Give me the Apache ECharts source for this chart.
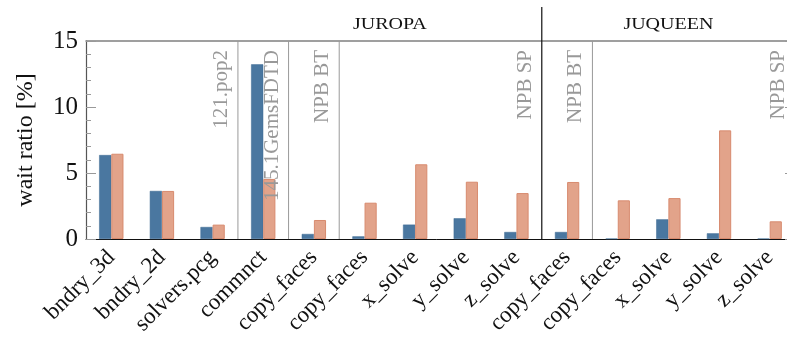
<!DOCTYPE html>
<html>
<head>
<meta charset="utf-8">
<script src="https://cdn.jsdelivr.net/npm/echarts@6/dist/echarts.min.js"></script>
<style>
  html, body { margin: 0; padding: 0; background: #fff; }
  #chart { width: 787px; height: 341px; }
</style>
</head>
<body>
<div id="chart"></div>
<script>
// Code regions (x axis categories)
const regions = ['bndry_3d', 'bndry_2d', 'solvers.pcg', 'commnct', 'copy_faces', 'copy_faces',
  'x_solve', 'y_solve', 'z_solve', 'copy_faces', 'copy_faces', 'x_solve', 'y_solve', 'z_solve'];

// Wait ratio in percent for the two measurements
const waitBlue   = [6.36, 3.64, 0.91, 13.23, 0.38, 0.20, 1.09, 1.57, 0.53, 0.53, 0.03, 1.49, 0.43, 0.03];
const waitSalmon = [6.46, 3.64, 1.09, 4.55, 1.44, 2.75, 5.66, 4.34, 3.48, 4.32, 2.93, 3.10, 8.23, 1.34];

// Benchmarks: label and last category index of each
const benchNames = ['121.pop2', '145.1GemsFDTD', 'NPB BT', 'NPB SP', 'NPB BT', 'NPB SP'];
const benchEnds  = [2, 3, 4, 8, 9, 13];

// Machines: label, first and last category index
const machineNames = ['JUROPA', 'JUQUEEN'];
const machineFirst = [3, 9];
const machineLast  = [8, 13];

const yTicks = [0, 5, 10, 15];

const FONT = 'Liberation Serif';

// Boundaries between benchmarks; one that also separates machines is drawn in black
const lastEnd = benchEnds[benchEnds.length - 1];
const boundaries = benchEnds.slice(0, -1).map(e => [e + 0.5, machineLast.includes(e) && e !== lastEnd ? 1 : 0]);

const chart = echarts.init(document.getElementById('chart'));

chart.setOption({
  animation: false,
  grid: { left: 86, top: 41, height: 198, width: 709, containLabel: false, outerBoundsMode: 'none' },
  xAxis: [
    {
      type: 'category',
      data: regions,
      boundaryGap: true,
      axisLine: { onZero: false, lineStyle: { color: '#111', width: 1 } },
      axisTick: { alignWithLabel: true, length: 9, lineStyle: { color: '#999' } },
      axisLabel: { rotate: 45, interval: 0, margin: 15, fontFamily: FONT, fontSize: 23, color: '#111' },
      splitLine: { show: false }
    },
    {
      // helper axis: continuous category index, also draws the top frame line
      type: 'value',
      position: 'top',
      min: -0.5,
      max: regions.length - 0.5,
      axisLine: { show: true, onZero: false, lineStyle: { color: '#808080', width: 1.5 } },
      axisTick: { show: false },
      axisLabel: { show: false },
      splitLine: { show: false }
    }
  ],
  yAxis: [
    {
      type: 'value',
      position: 'left',
      min: yTicks[0],
      max: yTicks[yTicks.length - 1],
      interval: 5,
      name: 'wait ratio [%]',
      nameLocation: 'middle',
      nameRotate: 90,
      nameGap: 48,
      nameTextStyle: { fontFamily: FONT, fontSize: 24, color: '#111' },
      axisLine: { show: true, onZero: false, lineStyle: { color: '#555', width: 1.2 } },
      axisTick: { show: true, inside: true, length: 10, lineStyle: { color: '#999' } },
      minorTick: { show: true, splitNumber: 5, length: 5, lineStyle: { color: '#999' } },
      axisLabel: { margin: 8, fontFamily: FONT, fontSize: 25, color: '#111' },
      splitLine: { show: false }
    },
    {
      type: 'value',
      position: 'right',
      min: yTicks[0],
      max: yTicks[yTicks.length - 1],
      interval: 5,
      axisLine: { show: true, onZero: false, lineStyle: { color: '#555' } },
      axisTick: { show: true, inside: true, length: 10, lineStyle: { color: '#999' } },
      minorTick: { show: true, splitNumber: 5, length: 5, lineStyle: { color: '#999' } },
      axisLabel: { show: false },
      splitLine: { show: false }
    }
  ],
  series: [
    {
      type: 'bar',
      name: 'blue',
      data: waitBlue,
      barWidth: '24%',
      barGap: '0%',
      itemStyle: { color: '#4a77a0', borderColor: '#3f6b93', borderWidth: 0.5 },
      z: 2
    },
    {
      type: 'bar',
      name: 'salmon',
      data: waitSalmon,
      barWidth: '24%',
      barGap: '0%',
      itemStyle: { color: '#e2a38a', borderColor: '#d88b6f', borderWidth: 1 },
      z: 2
    },
    {
      // benchmark / machine separators
      type: 'custom',
      xAxisIndex: 1,
      yAxisIndex: 0,
      data: boundaries,
      z: 3,
      renderItem: function (params, api) {
        const x = api.value(0);
        const black = api.value(1) === 1;
        const bottom = api.coord([x, 0]);
        const top = api.coord([x, 15]);
        return {
          type: 'line',
          shape: { x1: bottom[0], y1: bottom[1], x2: top[0], y2: black ? top[1] - 34 : top[1] },
          style: { stroke: black ? '#111' : '#999', lineWidth: black ? 1.2 : 1 }
        };
      }
    },
    {
      // benchmark names, rotated, at the right end of each benchmark block
      type: 'custom',
      xAxisIndex: 1,
      yAxisIndex: 0,
      data: benchEnds.map((e, i) => [e + 0.5, i]),
      z: 4,
      renderItem: function (params, api) {
        const p = api.coord([api.value(0), 15]);
        return {
          type: 'text',
          x: p[0] - 6,
          y: p[1] + 9,
          rotation: Math.PI / 2,
          style: {
            text: benchNames[api.value(1)],
            fontFamily: FONT,
            fontSize: 21,
            fill: '#999',
            align: 'right',
            verticalAlign: 'bottom'
          }
        };
      }
    },
    {
      // machine names above the plot
      type: 'custom',
      xAxisIndex: 1,
      yAxisIndex: 0,
      data: machineNames.map((n, i) => [(machineFirst[i] + machineLast[i]) / 2, i]),
      z: 4,
      renderItem: function (params, api) {
        const p = api.coord([api.value(0), 15]);
        return {
          type: 'text',
          x: p[0],
          y: p[1] - 16,
          scaleX: 1.25,
          style: {
            text: machineNames[api.value(1)],
            fontFamily: FONT,
            fontSize: 16,
            fill: '#111',
            align: 'center',
            verticalAlign: 'middle'
          }
        };
      }
    }
  ]
});
</script>
</body>
</html>
